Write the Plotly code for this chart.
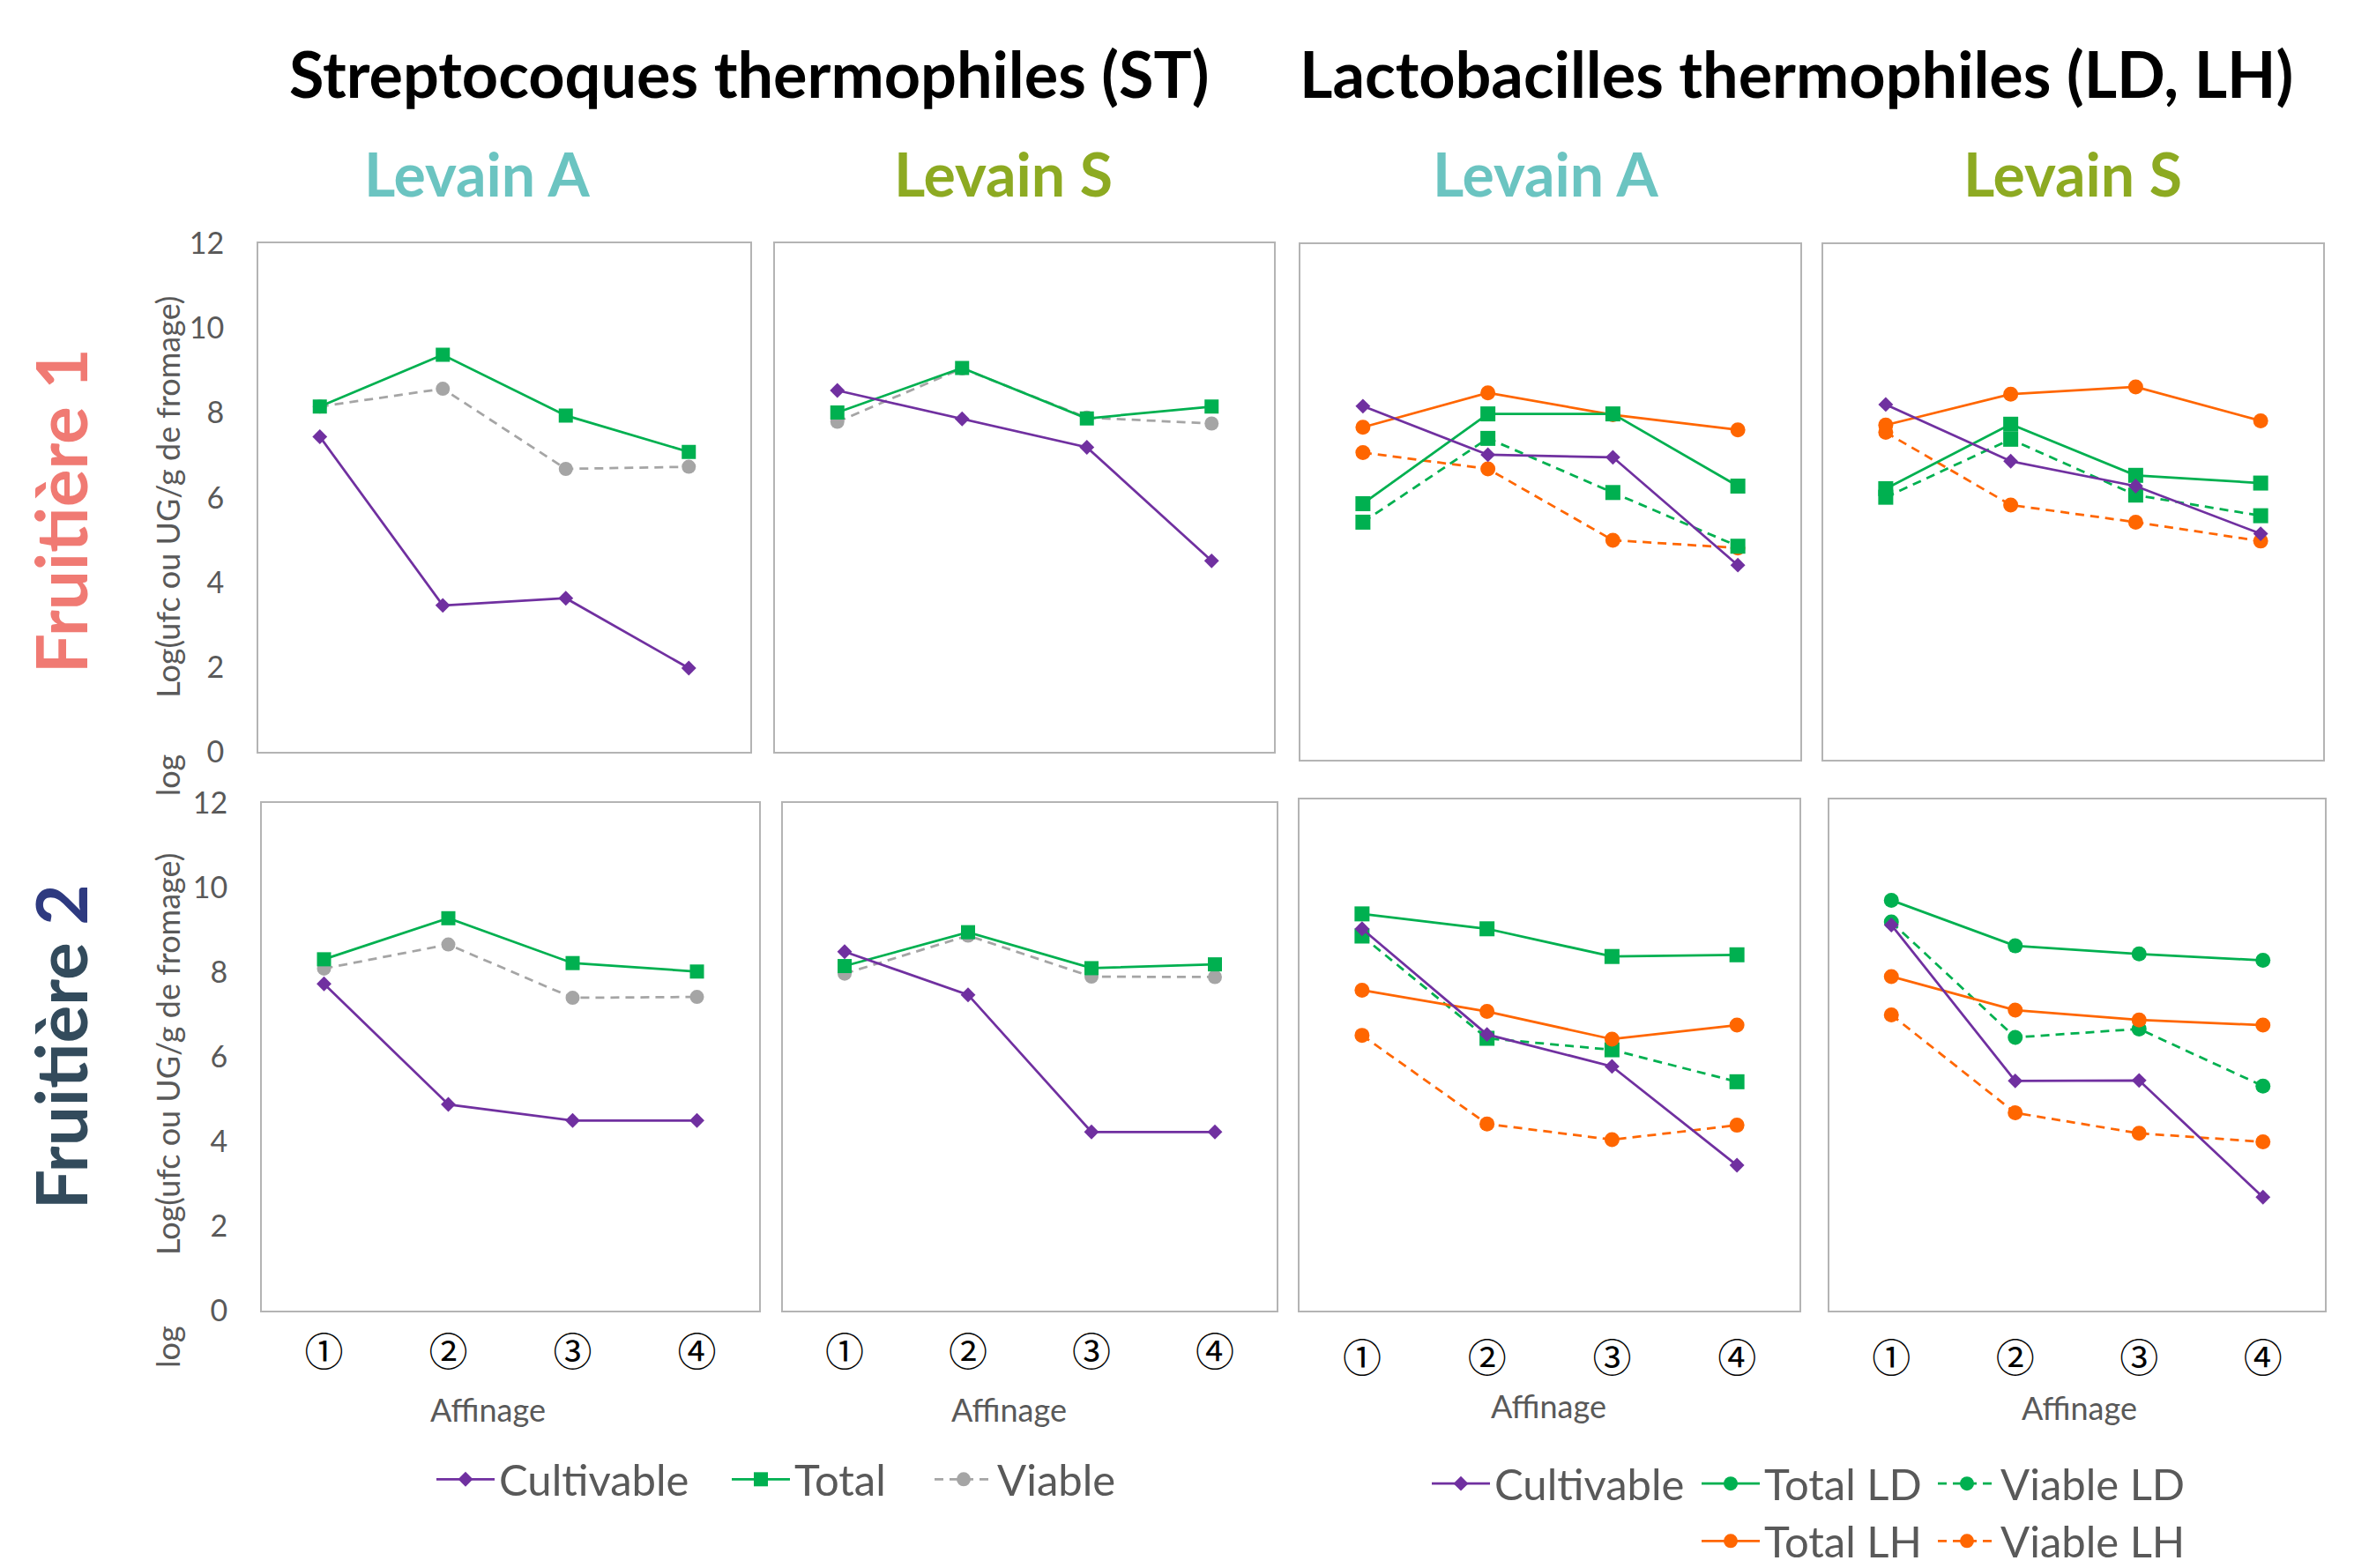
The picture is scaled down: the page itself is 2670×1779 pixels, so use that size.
import plotly.graph_objects as go

W, H = 2670, 1779
stages = ["①", "②", "③", "④"]

# ---- Streptocoques thermophiles (ST) ----
st_f1_A_cult = [7.44, 3.46, 3.63, 1.98]
st_f1_A_total = [8.15, 9.37, 7.94, 7.08]
st_f1_A_viable = [8.15, 8.57, 6.68, 6.73]
st_f1_S_cult = [8.53, 7.86, 7.19, 4.51]
st_f1_S_total = [8.01, 9.06, 7.87, 8.15]
st_f1_S_viable = [7.79, 9.05, 7.89, 7.75]
st_f2_A_cult = [7.73, 4.88, 4.50, 4.50]
st_f2_A_total = [8.31, 9.28, 8.22, 8.02]
st_f2_A_viable = [8.09, 8.66, 7.40, 7.42]
st_f2_S_cult = [8.49, 7.47, 4.23, 4.23]
st_f2_S_total = [8.15, 8.95, 8.10, 8.19]
st_f2_S_viable = [7.97, 8.87, 7.90, 7.89]

# ---- Lactobacilles thermophiles (LD, LH) ----
lab_f1_A_cult = [8.23, 7.10, 7.04, 4.53]
lab_f1_A_totLD = [5.96, 8.05, 8.05, 6.37]
lab_f1_A_viaLD = [5.53, 7.48, 6.22, 4.97]
lab_f1_A_totLH = [7.74, 8.54, 8.03, 7.68]
lab_f1_A_viaLH = [7.15, 6.77, 5.11, 4.93]
lab_f1_S_cult = [8.27, 6.95, 6.37, 5.26]
lab_f1_S_totLD = [6.31, 7.81, 6.62, 6.44]
lab_f1_S_viaLD = [6.11, 7.46, 6.16, 5.68]
lab_f1_S_totLH = [7.79, 8.51, 8.68, 7.89]
lab_f1_S_viaLH = [7.62, 5.93, 5.53, 5.09]
lab_f2_A_cult = [8.97, 6.49, 5.74, 3.42]
lab_f2_A_totLD = [9.32, 8.97, 8.32, 8.36]
lab_f2_A_viaLD = [8.80, 6.40, 6.13, 5.38]
lab_f2_A_totLH = [7.53, 7.03, 6.38, 6.71]
lab_f2_A_viaLH = [6.47, 4.39, 4.02, 4.36]
lab_f2_S_cult = [9.06, 5.40, 5.41, 2.67]
lab_f2_S_totLD = [9.64, 8.57, 8.38, 8.23]
lab_f2_S_viaLD = [9.13, 6.42, 6.62, 5.28]
lab_f2_S_totLH = [7.85, 7.06, 6.83, 6.71]
lab_f2_S_viaLH = [6.95, 4.65, 4.17, 3.97]

PURPLE = "#7030A0"
GREEN = "#00B050"
GRAY = "#A5A5A5"
ORANGE = "#FF6600"
FRAME = "#B4B4B4"
TXT = "#595959"
FONT = "Lato"

# panel frames in pixels: (left, right, top, bottom)
panels = [
    (285, 843, 255, 853),    # 1 ST A F1
    (871, 1437, 255, 853),   # 2 ST S F1
    (1467, 2034, 256, 862),  # 3 LAB A F1
    (2060, 2627, 256, 862),  # 4 LAB S F1
    (289, 853, 913, 1510),   # 5 ST A F2
    (880, 1440, 913, 1510),  # 6 ST S F2
    (1466, 2033, 909, 1510), # 7 LAB A F2
    (2067, 2629, 909, 1510), # 8 LAB S F2
]

fig = go.Figure()
DASH = "10px,7px"


def add(i, y, name, color, symbol, size, dash="solid", legend=None):
    ax = "" if i == 1 else str(i)
    fig.add_trace(go.Scatter(
        x=stages, y=y, name=name, mode="lines+markers",
        line=dict(color=color, width=2.75, dash=dash),
        marker=dict(color=color, symbol=symbol, size=size),
        xaxis="x" + ax, yaxis="y" + ax,
        showlegend=legend is not None,
        legend=legend if legend else "legend",
    ))


def st_panel(i, cult, tot, via, leg=False):
    add(i, via, "Viable", GRAY, "circle", 16, DASH, "legend3" if leg else None)
    add(i, tot, "Total", GREEN, "square", 16, "solid", "legend2" if leg else None)
    add(i, cult, "Cultivable", PURPLE, "diamond", 13, "solid", "legend" if leg else None)


def lab_panel(i, cult, tLD, vLD, tLH, vLH, ldsym, leg=False):
    add(i, vLH, "Viable LH", ORANGE, "circle", 17, DASH, "legend8" if leg else None)
    add(i, vLD, "Viable LD", GREEN, ldsym, 17, DASH, "legend6" if leg else None)
    add(i, tLH, "Total LH", ORANGE, "circle", 17, "solid", "legend7" if leg else None)
    add(i, tLD, "Total LD", GREEN, ldsym, 17, "solid", "legend5" if leg else None)
    add(i, cult, "Cultivable", PURPLE, "diamond", 13, "solid", "legend4" if leg else None)


st_panel(1, st_f1_A_cult, st_f1_A_total, st_f1_A_viable, leg=True)
st_panel(2, st_f1_S_cult, st_f1_S_total, st_f1_S_viable)
lab_panel(3, lab_f1_A_cult, lab_f1_A_totLD, lab_f1_A_viaLD, lab_f1_A_totLH, lab_f1_A_viaLH, "square")
lab_panel(4, lab_f1_S_cult, lab_f1_S_totLD, lab_f1_S_viaLD, lab_f1_S_totLH, lab_f1_S_viaLH, "square")
st_panel(5, st_f2_A_cult, st_f2_A_total, st_f2_A_viable)
st_panel(6, st_f2_S_cult, st_f2_S_total, st_f2_S_viable)
lab_panel(7, lab_f2_A_cult, lab_f2_A_totLD, lab_f2_A_viaLD, lab_f2_A_totLH, lab_f2_A_viaLH, "square")
lab_panel(8, lab_f2_S_cult, lab_f2_S_totLD, lab_f2_S_viaLD, lab_f2_S_totLH, lab_f2_S_viaLH, "circle", leg=True)

layout = dict(
    width=W, height=H, margin=dict(l=0, r=0, t=0, b=0),
    paper_bgcolor="white", plot_bgcolor="white",
    font=dict(family=FONT, color=TXT),
)
for i, (l, r, t, b) in enumerate(panels, start=1):
    ax = "" if i == 1 else str(i)
    bottom_row = i >= 5
    lab = i in (3, 4, 7, 8)
    layout["xaxis" + ax] = dict(
        domain=[l / W, r / W], anchor="y" + ax, type="category",
        categoryorder="array", categoryarray=stages, range=[-0.5, 3.5],
        showline=True, mirror=True, linecolor=FRAME, linewidth=2,
        showgrid=False, zeroline=False, ticks="",
        showticklabels=bottom_row, ticklabelstandoff=(15 if lab else 8),
        tickfont=dict(family="Noto Sans CJK JP", size=44, color="black"),
    )
    layout["yaxis" + ax] = dict(
        domain=[1 - b / H, 1 - t / H], anchor="x" + ax,
        range=[0, 12], tick0=0, dtick=2,
        showline=True, mirror=True, linecolor=FRAME, linewidth=2,
        showgrid=False, zeroline=False, ticks="",
        showticklabels=(i in (1, 5)), ticklabelstandoff=30,
        tickfont=dict(family=FONT, size=34, color=TXT),
    )

# legends (one item each, positioned like the reference)
IW = 66
leg_items = {
    "legend": (482, 1708), "legend2": (817, 1708), "legend3": (1047, 1708),
    "legend4": (1611, 1713), "legend5": (1917, 1713), "legend6": (2185, 1713),
    "legend7": (1917, 1781), "legend8": (2185, 1781),
}
for key, (px, py) in leg_items.items():
    layout[key] = dict(
        x=px / W, y=1 - py / H, xanchor="left", yanchor="middle",
        orientation="h", bgcolor="rgba(0,0,0,0)", borderwidth=0,
        itemwidth=IW,
        font=dict(family=FONT, size=49, color=TXT),
    )

fig.update_layout(**layout)

ann = []


def txt(text, x, y, size, color, bold=False, angle=0, family=FONT):
    ann.append(dict(
        text=("<b>%s</b>" % text) if bold else text, x=x / W, y=1 - y / H,
        xref="paper", yref="paper", showarrow=False, textangle=angle,
        xanchor="center", yanchor="middle",
        font=dict(family=family, size=size, color=color),
    ))


txt("Streptocoques thermophiles (ST)", 842, 55, 72, "black", bold=True)
txt("Lactobacilles thermophiles (LD, LH)", 2029, 55, 72, "black", bold=True)
TEAL = "#6BC4C1"
OLIVE = "#8DAA22"
txt("Levain A", 533, 173, 68, TEAL, bold=True)
txt("Levain S", 1130, 173, 68, OLIVE, bold=True)
txt("Levain A", 1745, 173, 68, TEAL, bold=True)
txt("Levain S", 2343, 173, 68, OLIVE, bold=True)
txt("Fruitière 1", 60, 570, 80, "#F07A73", bold=True, angle=-90)
txt("Fruitière <span style='color:#2E3A80'>2</span>", 60, 1200, 80, "#334B5C", bold=True, angle=-90)
for yc in (553, 1208):
    txt("Log(ufc ou UG/g de fromage)", 182, yc, 36, TXT, angle=-90)
for yc in (880, 1552):
    txt("log", 182, yc, 36, TXT, angle=-90)
for xc, yc in ((545, 1626), (1136, 1626), (1749, 1621), (2350, 1624)):
    txt("Affinage", xc, yc, 36, TXT)

fig.update_layout(annotations=ann)
fig.write_html("out.html")
